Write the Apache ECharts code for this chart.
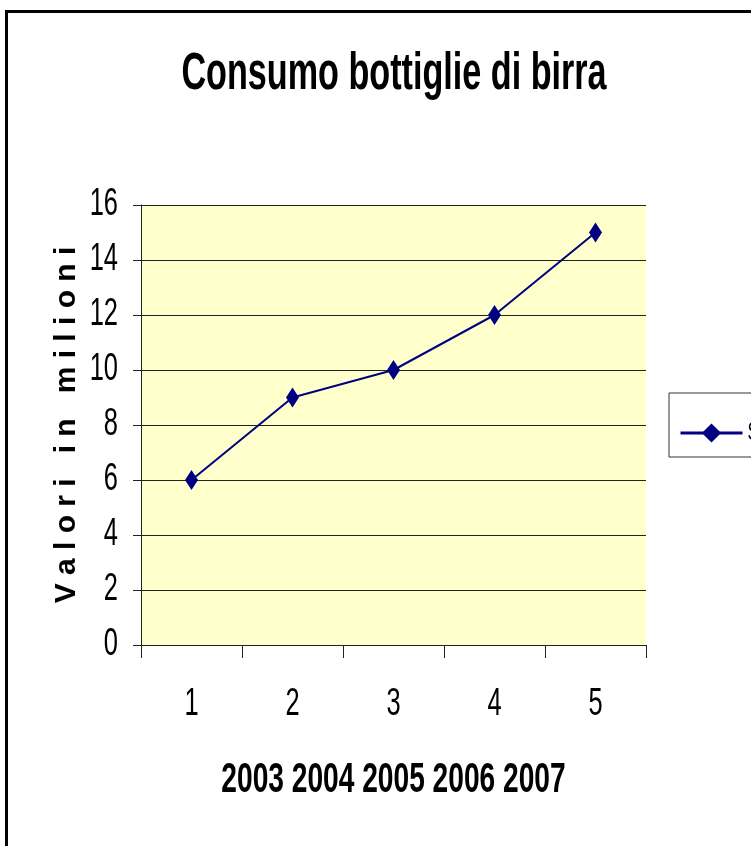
<!DOCTYPE html>
<html><head><meta charset="utf-8">
<script src="https://cdn.jsdelivr.net/npm/echarts@6/dist/echarts.min.js"></script>
<style>html,body{margin:0;padding:0;background:#fff}#c{width:751px;height:846px}</style>
</head><body><div id="c"></div>
<script>
const categories = ['1','2','3','4','5'];
const values = [6, 9, 10, 12, 15];
const seriesName = 'Serie1';
const titleText = 'Consumo bottiglie di birra';
const xName = '2003 2004 2005 2006 2007';
const yName = 'V a l o r i   i n   m i l i o n i';
const FONT = '"Liberation Sans", Arial, sans-serif';
const NARROW = 0.67; // emulate Arial Narrow by horizontal compression

const chart = echarts.init(document.getElementById('c'), null, {renderer:'canvas'});
chart.setOption({
  animation: false,
  backgroundColor: '#fff',
  graphic: [{
    type: 'rect', z: 100, silent: true,
    shape: {x: 6.5, y: 11.5, width: 800, height: 900},
    style: {fill: 'none', stroke: '#000', lineWidth: 3}
  }],
  title: {
    text: titleText, left: 389, textAlign: 'center', top: 44,
    textStyle: {fontFamily: FONT, fontSize: 51, fontWeight: 'bold', color: '#000'}
  },
  legend: {
    left: 669, top: 393,
    data: [seriesName],
    itemWidth: 62, itemHeight: 24, itemGap: 6,
    padding: [27, 10, 11, 10],
    borderColor: '#333', borderWidth: 1,
    lineStyle: {width: 3},
    textStyle: {fontFamily: FONT, fontSize: 26, color: '#000'}
  },
  grid: {
    left: 141, top: 205, right: 105, bottom: 201,
    show: true, backgroundColor: '#FFFFCC', borderWidth: 0
  },
  xAxis: {
    type: 'category', data: categories, boundaryGap: true,
    name: xName, nameLocation: 'middle', nameGap: 114, nameMoveOverlap: false,
    nameTextStyle: {fontFamily: FONT, fontSize: 42, fontWeight: 'bold', color: '#000'},
    axisLine: {show: true, lineStyle: {color: '#222', width: 1}},
    axisTick: {show: true, length: 13, lineStyle: {color: '#222'}},
    axisLabel: {fontFamily: FONT, fontSize: 38, color: '#000', margin: 41},
    splitLine: {show: false}
  },
  yAxis: {
    type: 'value', min: 0, max: 16, interval: 2,
    name: yName, nameLocation: 'middle', nameGap: 59, nameRotate: 90, nameMoveOverlap: false,
    nameTextStyle: {fontFamily: FONT, fontSize: 30, fontWeight: 'bold', color: '#000'},
    axisLine: {show: true, lineStyle: {color: '#222', width: 1}},
    axisTick: {show: true, length: 8, lineStyle: {color: '#222'}},
    axisLabel: {fontFamily: FONT, fontSize: 38, color: '#000', margin: 23},
    splitLine: {show: true, lineStyle: {color: '#222', width: 1}}
  },
  series: [{
    name: seriesName, type: 'line', data: values,
    lineStyle: {color: '#000080', width: 2},
    itemStyle: {color: '#000080'},
    symbol: 'diamond', symbolSize: [13, 20],
    showSymbol: true
  }]
});

// Horizontally compress texts to mimic the narrow font of the original
const zr = chart.getZr();
function visit(el) {
  if (el.type === 'text' && el.style && typeof el.style.text === 'string' && el.style.text !== yName) {
    const r = el.getBoundingRect();
    const a = el.style.align;
    el.originX = a === 'right' ? r.x + r.width : (a === 'center' ? r.x + r.width / 2 : r.x);
    el.originY = r.y + r.height / 2;
    el.scaleX = NARROW;
    el.markRedraw();
  }
  if (el.isGroup) el.eachChild(visit);
}
zr.storage.getRoots().forEach(visit);
zr.refreshImmediately();
</script></body></html>
